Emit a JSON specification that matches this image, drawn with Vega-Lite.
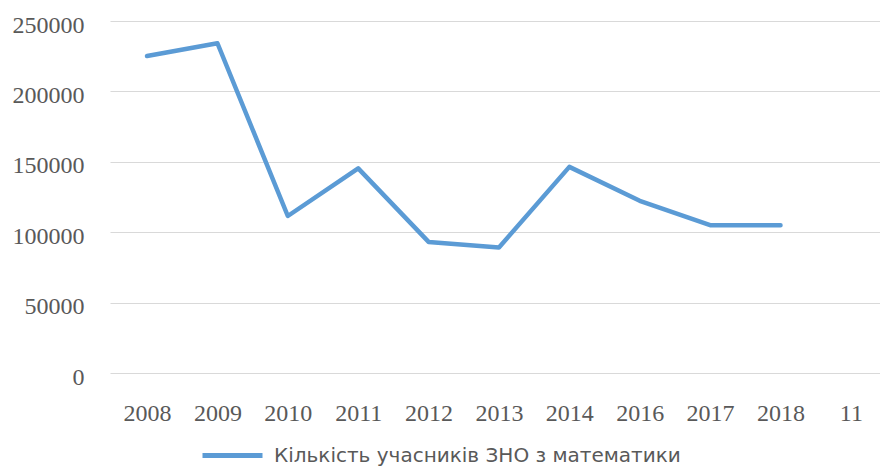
{
  "$schema": "https://vega.github.io/schema/vega-lite/v6.json",
  "autosize": {"type": "none"},
  "width": 770,
  "height": 352,
  "padding": {"left": 110, "top": 21, "right": 0, "bottom": 94},
  "background": "white",
  "data": {
    "values": [
      {"year": "2008", "count": 225100, "series": "Кількість учасників ЗНО з математики"},
      {"year": "2009", "count": 234200, "series": "Кількість учасників ЗНО з математики"},
      {"year": "2010", "count": 111500, "series": "Кількість учасників ЗНО з математики"},
      {"year": "2011", "count": 145300, "series": "Кількість учасників ЗНО з математики"},
      {"year": "2012", "count": 93100, "series": "Кількість учасників ЗНО з математики"},
      {"year": "2013", "count": 89100, "series": "Кількість учасників ЗНО з математики"},
      {"year": "2014", "count": 146400, "series": "Кількість учасників ЗНО з математики"},
      {"year": "2016", "count": 122300, "series": "Кількість учасників ЗНО з математики"},
      {"year": "2017", "count": 105000, "series": "Кількість учасників ЗНО з математики"},
      {"year": "2018", "count": 105000, "series": "Кількість учасників ЗНО з математики"},
      {"year": "11", "count": null, "series": "Кількість учасників ЗНО з математики"}
    ]
  },
  "mark": {"type": "line", "strokeWidth": 4.5, "strokeCap": "round", "strokeJoin": "round"},
  "encoding": {
    "x": {
      "field": "year",
      "type": "nominal",
      "sort": null,
      "scale": {"domain": ["2008", "2009", "2010", "2011", "2012", "2013", "2014", "2016", "2017", "2018", "11"], "padding": 0.47, "align": 0.56},
      "axis": {
        "title": null,
        "labelAngle": 0,
        "ticks": false,
        "domain": false,
        "grid": false,
        "labelFont": "Liberation Serif",
        "labelFontSize": 24,
        "labelColor": "#595959",
        "labelPadding": 28
      }
    },
    "y": {
      "field": "count",
      "type": "quantitative",
      "scale": {"domain": [0, 250000], "nice": false},
      "axis": {
        "title": null,
        "values": [0, 50000, 100000, 150000, 200000, 250000],
        "format": "d",
        "ticks": false,
        "domain": false,
        "grid": true,
        "gridColor": "#D9D9D9",
        "gridWidth": 1,
        "labelFont": "Liberation Serif",
        "labelFontSize": 24,
        "labelColor": "#595959",
        "labelPadding": 26,
        "labelOffset": 4
      }
    },
    "color": {
      "field": "series",
      "type": "nominal",
      "scale": {"range": ["#5B9BD5"]},
      "legend": {
        "title": null,
        "orient": "none",
        "legendX": 90,
        "legendY": 402,
        "symbolType": "stroke",
        "symbolSize": 3600,
        "symbolStrokeWidth": 5,
        "labelFont": "DejaVu Sans",
        "labelFontSize": 20,
        "labelColor": "#595959",
        "labelOffset": 9,
        "labelLimit": 600
      }
    }
  },
  "config": {"view": {"stroke": null}}
}
